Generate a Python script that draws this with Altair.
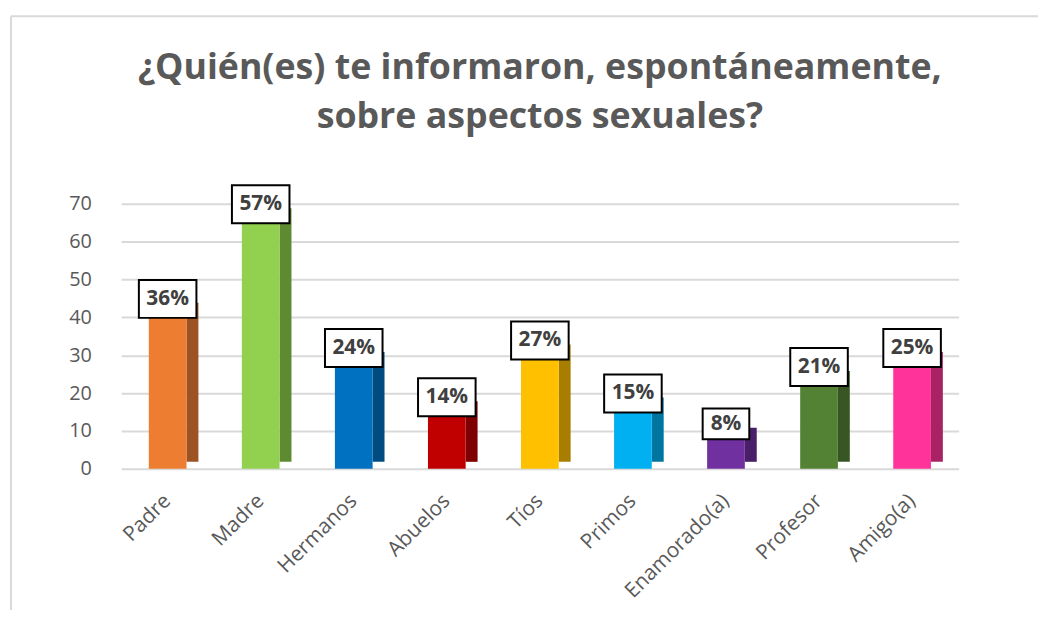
import altair as alt
import pandas as pd

categories = ["Padre", "Madre", "Hermanos", "Abuelos", "Tíos", "Primos",
              "Enamorado(a)", "Profesor", "Amigo(a)"]
values = [42, 67, 29, 16, 31, 17, 9, 24, 29]
pct_labels = ["36%", "57%", "24%", "14%", "27%", "15%", "8%", "21%", "25%"]
front_colors = ["#ED7D31", "#92D050", "#0070C0", "#C00000", "#FFC000",
                "#00B0F0", "#7030A0", "#548235", "#FF3399"]
side_colors = ["#9C5222", "#5E8A32", "#004B80", "#7E0000", "#A87E00",
               "#0075A0", "#4A1F6A", "#375623", "#A82264"]

df = pd.DataFrame({
    "cat": categories,
    "value": values,
    "pct": pct_labels,
    "side": [c + "_s" for c in categories],
    "short": [len(p) < 3 for p in pct_labels],
})

x_enc = alt.X("cat:N", sort=categories,
              scale=alt.Scale(paddingInner=0.595, paddingOuter=0.2975),
              axis=alt.Axis(title=None, labelAngle=-45, labelAlign="right",
                            labelBaseline="middle", labelFont="Open Sans",
                            labelFontSize=21, labelColor="#595959",
                            labelPadding=29, domain=False, ticks=False,
                            grid=False))
y_enc = alt.Y("value:Q", scale=alt.Scale(domain=[0, 70], nice=False),
              axis=alt.Axis(title=None, values=[0, 10, 20, 30, 40, 50, 60, 70],
                            labelFont="Open Sans", labelFontSize=20,
                            labelColor="#595959", labelPadding=30,
                            domain=False, ticks=False, gridColor="#D9D9D9",
                            gridWidth=2))

base = alt.Chart(df)

side = base.mark_bar(size=12, xOffset=25, yOffset=-7, y2Offset=-7).encode(
    x=x_enc, y=y_enc,
    color=alt.Color("side:N", scale=alt.Scale(domain=[c + "_s" for c in categories],
                                              range=side_colors), legend=None),
)

front = base.mark_bar(size=38).encode(
    x=x_enc, y=y_enc,
    fill=alt.Fill("cat:N", scale=alt.Scale(domain=categories, range=front_colors),
                  legend=None),
)

box = base.mark_point(
    shape="M-1,-0.66L1,-0.66L1,0.66L-1,0.66Z",
    filled=False, fill="white", fillOpacity=1, stroke="black",
    strokeWidth=2, opacity=1, yOffset=-11,
).encode(
    x=x_enc, y=y_enc,
    size=alt.condition("datum.short", alt.value(47 * 47), alt.value(58 * 58)),
)

labels = base.mark_text(font="Open Sans", fontWeight="bold", fontSize=21,
                        color="#404040", baseline="middle", dy=-11).encode(
    x=x_enc, y=y_enc, text="pct:N",
)

frame_top = alt.Chart(df.head(1)).mark_rule(color="#D9D9D9", strokeWidth=2).encode(
    x=alt.value(-111), x2=alt.value(940), y=alt.value(-189))
frame_left = alt.Chart(df.head(1)).mark_rule(color="#D9D9D9", strokeWidth=2).encode(
    x=alt.value(-111), y=alt.value(-189), y2=alt.value(430))

chart = alt.layer(side, front, box, labels, frame_top, frame_left).properties(
    width=844, height=267,
    title=alt.TitleParams(
        text=["¿Quién(es) te informaron, espontáneamente,", "sobre aspectos sexuales?"],
        font="Open Sans", fontSize=36, fontWeight="bold", color="#595959",
        anchor="middle", lineHeight=50, offset=-122, dx=0),
    autosize=alt.AutoSizeParams(type="none"),
    padding={"left": 114, "top": 195, "right": 80, "bottom": 140},
).resolve_scale(color="independent", fill="independent").configure_view(stroke=None)

chart.save("out.html", embed_options={"renderer": "svg", "actions": False})
